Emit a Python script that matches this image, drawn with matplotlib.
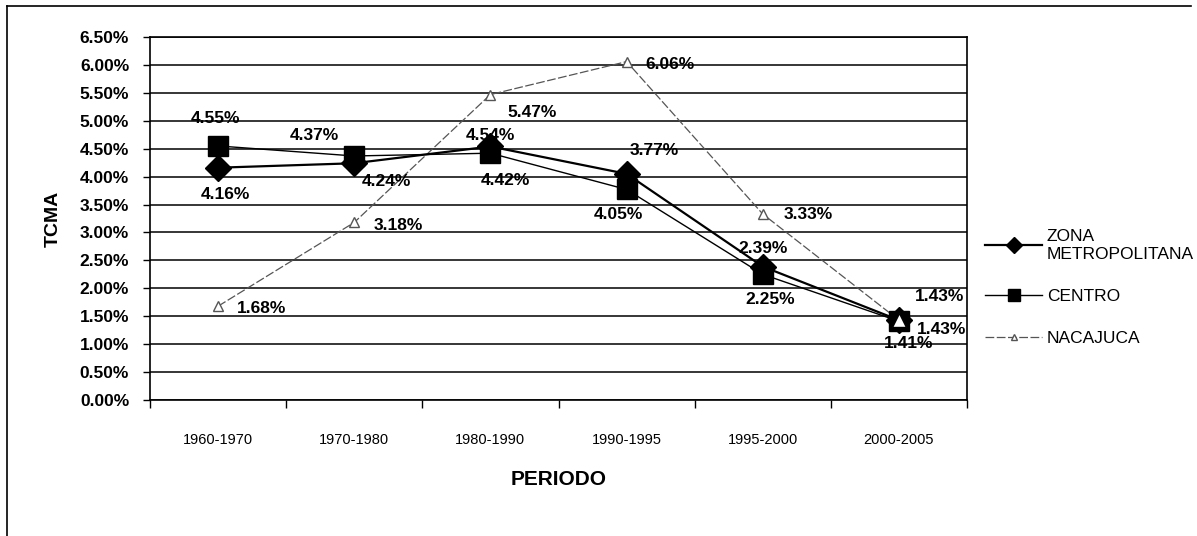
import matplotlib.pyplot as plt
from matplotlib.lines import Line2D

plt.rcParams['font.family'] = ['Liberation Sans', 'DejaVu Sans']

# Data
periodos = ["1960-1970", "1970-1980", "1980-1990", "1990-1995", "1995-2000", "2000-2005"]
zona_metro = [4.16, 4.24, 4.54, 4.05, 2.39, 1.43]
centro = [4.55, 4.37, 4.42, 3.77, 2.25, 1.41]
nacajuca = [1.68, 3.18, 5.47, 6.06, 3.33, 1.43]

# label offsets in points (style only)
off_zm = [(5, -19), (23, -13), (0, 8), (-6, -29), (0, 13), (29, 17)]
off_ce = [(-2, 20), (-29, 15), (11, -20), (20, 28), (5, -18), (7, -16)]
off_na = [(31, -2), (32, -2), (30, -13), (31, -2), (33, 0), (31, -7)]

fig = plt.figure(figsize=(11.97, 5.36), dpi=100)
ax = fig.add_axes([0.1253, 0.2537, 0.6826, 0.6772])

x = list(range(len(periodos)))

ax.plot(x, nacajuca, color="#555555", lw=0.9, linestyle=(0, (7, 2)),
        marker="^", markersize=7, markerfacecolor="white", markeredgecolor="#555555",
        label="NACAJUCA", zorder=3)
ax.plot(x, zona_metro, color="black", lw=1.6, marker="D", markersize=13,
        label="ZONA\nMETROPOLITANA", zorder=4)
ax.plot(x, centro, color="black", lw=1.0, marker="s", markersize=15,
        label="CENTRO", zorder=4)
# triangle drawn on top at the last point, as in the original
ax.plot(x[-1], nacajuca[-1], marker="^", markersize=10, markerfacecolor="white",
        markeredgecolor="black", linestyle="none", zorder=6)

for serie, offs in [(zona_metro, off_zm), (centro, off_ce), (nacajuca, off_na)]:
    for xi, v, o in zip(x, serie, offs):
        ax.annotate(f"{v:.2f}%", (xi, v), xytext=o, textcoords="offset points",
                    ha="center", va="center", fontsize=12.5, fontweight="bold", zorder=7)

ax.set_xlim(-0.5, 5.5)
ax.set_ylim(0, 6.5)
ax.set_yticks([i * 0.5 for i in range(14)])
ax.set_yticklabels([f"{i * 0.5:.2f}%" for i in range(14)], fontsize=12.5, fontweight="bold")
ax.set_xticks(x)
ax.set_xticklabels(periodos, fontsize=10.5)
ax.set_xticks([i + 0.5 for i in range(-1, 6)], minor=True)
ax.tick_params(axis="x", which="major", length=0, pad=24)
ax.tick_params(axis="x", which="minor", length=6, direction="out", width=1)
ax.tick_params(axis="y", length=5, direction="out", width=1, pad=10)
ax.grid(axis="y", color="black", lw=1.1)
ax.set_axisbelow(True)
for s in ax.spines.values():
    s.set_linewidth(1.2)

ax.set_ylabel("TCMA", fontsize=14, fontweight="bold", labelpad=13)
ax.set_xlabel("PERIODO", fontsize=15, fontweight="bold", labelpad=16)

handles, labels = ax.get_legend_handles_labels()
order = [1, 2, 0]
ax.legend([handles[i] for i in order], [labels[i] for i in order],
          loc="center left", bbox_to_anchor=(1.003, 0.31), frameon=False,
          fontsize=12.5, handlelength=3.3, handletextpad=0.25, labelspacing=1.55,
          markerscale=0.6)

# outer frame of the chart area
fig.add_artist(Line2D([0.006, 0.006], [0.0, 0.989], color="black", lw=1.2, transform=fig.transFigure))
fig.add_artist(Line2D([0.006, 0.995], [0.989, 0.989], color="black", lw=1.2, transform=fig.transFigure))

fig.savefig("out.png", dpi=100)
